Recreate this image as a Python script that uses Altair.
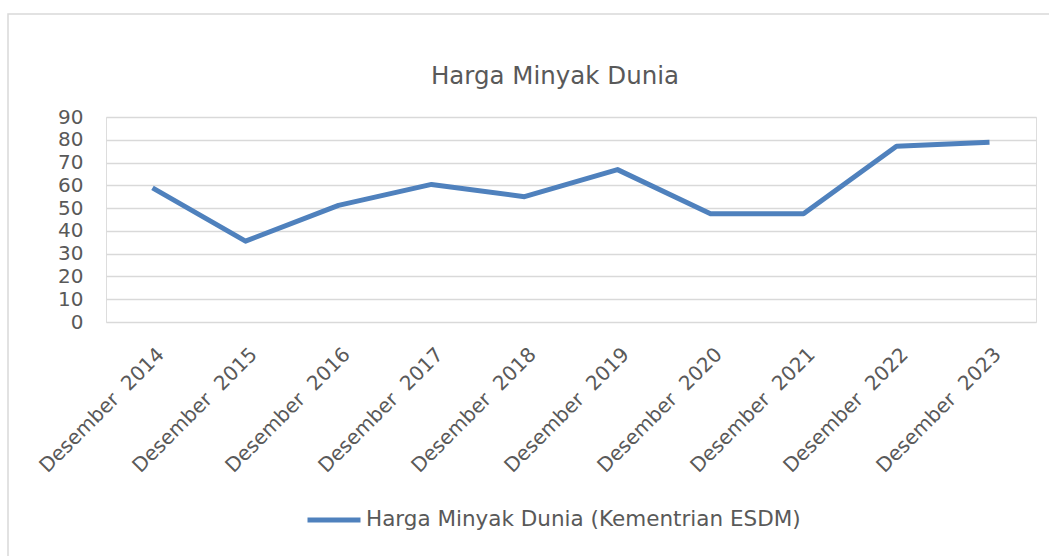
import altair as alt
import pandas as pd

categories = ["Desember \u00a02014", "Desember \u00a02015", "Desember \u00a02016", "Desember \u00a02017",
              "Desember \u00a02018", "Desember \u00a02019", "Desember \u00a02020", "Desember \u00a02021",
              "Desember \u00a02022", "Desember \u00a02023"]
values = [58.9, 35.5, 51.2, 60.4, 55.0, 66.9, 47.5, 47.5, 77.2, 78.9]
series_name = "Harga Minyak Dunia (Kementrian ESDM)"
y_ticks = [0, 10, 20, 30, 40, 50, 60, 70, 80, 90]

df = pd.DataFrame({"bulan": categories, "harga": values, "seri": [series_name] * len(values)})

FONT = "DejaVu Sans"
GRAY = "#595959"
BLUE = "#4f81bd"

frame = alt.Chart(pd.DataFrame({"a": [0]})).mark_rect(
    fillOpacity=0, stroke="#d9d9d9", strokeWidth=1.5
).encode(
    x=alt.value(-98), x2=alt.value(990), y=alt.value(-103), y2=alt.value(500)
)

line = alt.Chart(df).mark_line(strokeWidth=5, strokeJoin="round").encode(
    x=alt.X("bulan:N", sort=categories, scale=alt.Scale(paddingOuter=0.5),
            axis=alt.Axis(title=None, labelAngle=-45, labelAlign="right", labelBaseline="top",
                          labelPadding=22, labelOffset=1, labelFontSize=20, labelFont=FONT,
                          labelColor=GRAY, ticks=False, domain=False, grid=False)),
    y=alt.Y("harga:Q", scale=alt.Scale(domain=[0, 90], nice=False),
            axis=alt.Axis(title=None, values=y_ticks, labelFontSize=20, labelFont=FONT,
                          labelColor=GRAY, labelPadding=23, ticks=False, domain=False,
                          grid=True, gridColor="#d9d9d9", gridWidth=1.5)),
    color=alt.Color("seri:N", scale=alt.Scale(range=[BLUE]),
                    legend=alt.Legend(title=None, orient="none", legendX=199, legendY=374,
                                      symbolType="stroke", symbolSize=2809, symbolStrokeWidth=5,
                                      labelFontSize=21.5, labelFont=FONT, labelColor=GRAY,
                                      labelOffset=3, labelLimit=0)),
)

chart = alt.layer(frame, line).properties(
    width=930, height=205,
    autosize=alt.AutoSizeParams(type="none"),
    padding={"left": 106, "top": 117, "right": 13, "bottom": 234},
    title=alt.TitleParams("Harga Minyak Dunia", fontSize=24.5, font=FONT, color=GRAY,
                          fontWeight="normal", anchor="middle", baseline="alphabetic",
                          dx=-16, offset=-95),
).configure_view(stroke=None).configure(background="white")

chart.save("out.html", embed_options={"renderer": "svg", "actions": False})
